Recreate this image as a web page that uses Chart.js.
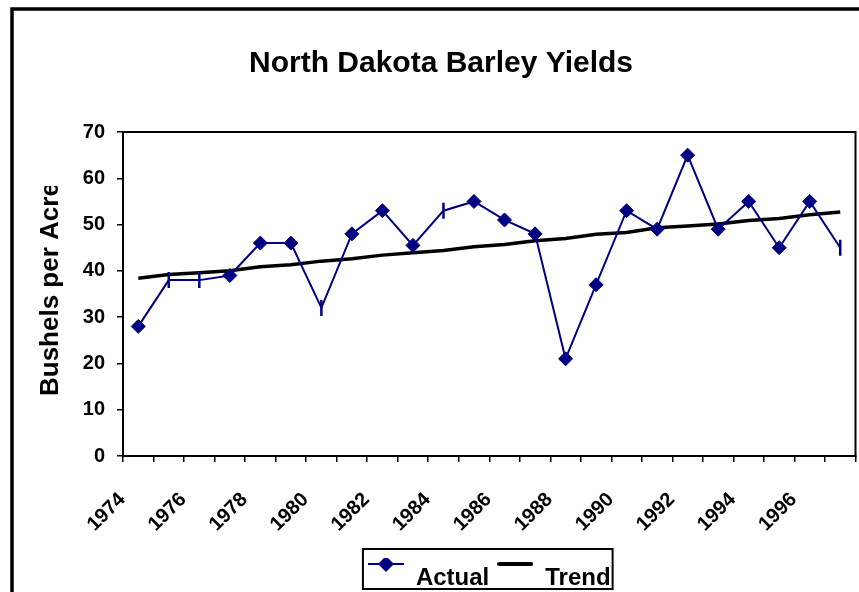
<!DOCTYPE html>
<html>
<head>
<meta charset="utf-8">
<script src="https://cdn.jsdelivr.net/npm/chart.js@4.4.1/dist/chart.umd.min.js"></script>
<style>
html,body{margin:0;padding:0;background:#fff;overflow:hidden;}
#wrap{width:859px;height:592px;position:relative;overflow:hidden;}
canvas{display:block;}
</style>
</head>
<body>
<div id="wrap"><canvas id="c" width="866" height="592"></canvas></div>
<script>
const years = ['1974','1975','1976','1977','1978','1979','1980','1981','1982','1983','1984','1985','1986','1987','1988','1989','1990','1991','1992','1993','1994','1995','1996','1997'];
const actual = [28, 38, 38, 39, 46, 46, 32, 48, 53, 45.5, 53, 55, 51, 48, 21, 37, 53, 49, 65, 49, 55, 45, 55, 45];
const trend = [38.4, 39.2, 39.6, 40.0, 40.9, 41.3, 42.1, 42.6, 43.4, 43.9, 44.4, 45.2, 45.7, 46.5, 47.0, 47.9, 48.3, 49.3, 49.7, 50.1, 50.9, 51.3, 52.1, 52.7];
// markers that appear as short vertical ticks in the original
const tickMarkYears = ['1975','1976','1980','1984','1997'];
const yTicks = [0, 10, 20, 30, 40, 50, 60, 70];

const NAVY = '#000080';
const FONT = 'Arial, "Liberation Sans", sans-serif';

const pStyles = years.map(y => tickMarkYears.includes(y) ? 'line' : 'rectRot');
const pRot = years.map(y => tickMarkYears.includes(y) ? 90 : 0);
const pRad = years.map(y => tickMarkYears.includes(y) ? 8 : 7);
const pBW = years.map(y => tickMarkYears.includes(y) ? 2.5 : 1);

function legendImg(kind) {
  const c = document.createElement('canvas');
  c.width = 36; c.height = 44;
  const g = c.getContext('2d');
  if (kind === 'actual') {
    g.strokeStyle = NAVY; g.lineWidth = 2;
    g.beginPath(); g.moveTo(0, 8); g.lineTo(36, 8); g.stroke();
    g.fillStyle = NAVY;
    g.beginPath(); g.moveTo(18, 0); g.lineTo(26, 8); g.lineTo(18, 16); g.lineTo(10, 8); g.closePath(); g.fill();
  } else {
    g.strokeStyle = '#000'; g.lineWidth = 4; g.lineCap = 'round';
    g.beginPath(); g.moveTo(2, 8); g.lineTo(34, 8); g.stroke();
  }
  return c;
}
const legImgs = {actual: legendImg('actual'), trend: legendImg('trend')};

const framePlugin = {
  id: 'frame',
  beforeDraw(chart) {
    const ctx = chart.ctx;
    ctx.save();
    ctx.fillStyle = '#fff';
    ctx.fillRect(0, 0, chart.width, chart.height);
    ctx.strokeStyle = '#000';
    ctx.lineWidth = 3.5;
    ctx.strokeRect(12, 9, 900, 700);
    ctx.restore();
  },
  afterDraw(chart) {
    const ctx = chart.ctx;
    const a = chart.chartArea;
    ctx.save();
    ctx.strokeStyle = '#000';
    ctx.lineWidth = 2;
    ctx.strokeRect(a.left, a.top, a.right - a.left, a.bottom - a.top);
    // y axis title (clipped as in original)
    ctx.beginPath();
    ctx.rect(0, 186, 120, 300);
    ctx.clip();
    ctx.translate(58, 396);
    ctx.rotate(-Math.PI / 2);
    ctx.font = 'bold 26px ' + FONT;
    ctx.fillStyle = '#000';
    ctx.textAlign = 'left';
    ctx.textBaseline = 'alphabetic';
    ctx.fillText('Bushels per Acre', 0, 0);
    ctx.restore();
    // legend border
    const lg = chart.legend;
    if (lg && lg.legendHitBoxes && lg.legendHitBoxes.length) {
      const hb = lg.legendHitBoxes;
      const l = hb[0].left - 5;
      const r = hb[hb.length - 1].left + hb[hb.length - 1].width + 2;
      const t = hb[0].top - 17;
      const b = hb[0].top + 23;
      ctx.save();
      ctx.strokeStyle = '#000';
      ctx.lineWidth = 2;
      ctx.strokeRect(l, t, r - l, b - t);
      ctx.restore();
    }
  }
};

new Chart(document.getElementById('c'), {
  type: 'line',
  data: {
    labels: years,
    datasets: [
      {
        label: 'Actual',
        data: actual,
        borderColor: NAVY,
        backgroundColor: NAVY,
        borderWidth: 2,
        pointStyle: pStyles,
        pointRotation: pRot,
        pointRadius: pRad,
        pointBorderWidth: pBW,
        pointBackgroundColor: NAVY,
        pointBorderColor: NAVY,
        tension: 0,
        order: 1
      },
      {
        label: 'Trend',
        data: trend,
        borderColor: '#000',
        backgroundColor: '#000',
        borderWidth: 3.5,
        pointRadius: 0,
        tension: 0,
        order: 2
      }
    ]
  },
  options: {
    responsive: false,
    animation: false,
    devicePixelRatio: 1,
    layout: { padding: { left: 20, right: 4, top: 0, bottom: -8 } },
    plugins: {
      title: {
        display: true,
        text: 'North Dakota Barley Yields',
        color: '#000',
        font: { family: FONT, size: 30, weight: 'bold', lineHeight: 1.2 },
        padding: { top: 46, bottom: 50 }
      },
      legend: {
        display: true,
        position: 'bottom',
        fullSize: false,
        labels: {
          color: '#000',
          font: { family: FONT, size: 24, weight: 'bold' },
          usePointStyle: true,
          pointStyleWidth: 36,
          padding: 8,
          generateLabels(chart) {
            return [
              { text: 'Actual', pointStyle: legImgs.actual, fillStyle: NAVY, strokeStyle: NAVY, lineWidth: 0, datasetIndex: 0, hidden: false },
              { text: 'Trend', pointStyle: legImgs.trend, fillStyle: '#000', strokeStyle: '#000', lineWidth: 0, datasetIndex: 1, hidden: false }
            ];
          }
        }
      },
      tooltip: { enabled: false }
    },
    scales: {
      x: {
        type: 'category',
        offset: true,
        border: { display: true, color: '#000', width: 2 },
        grid: { offset: true, drawOnChartArea: false, drawTicks: true, tickLength: 6, color: '#000', lineWidth: 1.5 },
        ticks: {
          autoSkip: false,
          maxRotation: 45,
          minRotation: 45,
          padding: 26,
          labelOffset: -16,
          color: '#000',
          font: { family: FONT, size: 20, weight: 'bold' },
          callback(v, i) { return i % 2 === 0 ? years[i] : ''; }
        },
        afterFit(s) { s.height = 102; s.paddingLeft = 0; s.paddingRight = 0; }
      },
      y: {
        min: 0,
        max: 70,
        border: { display: true, color: '#000', width: 2 },
        grid: { drawOnChartArea: false, drawTicks: true, tickLength: 6, color: '#000', lineWidth: 1.5 },
        afterBuildTicks(s) { s.ticks = yTicks.map(v => ({ value: v })); },
        ticks: {
          padding: 12,
          color: '#000',
          font: { family: FONT, size: 20, weight: 'bold' }
        },
        afterFit(s) { s.width = 103; }
      }
    }
  },
  plugins: [framePlugin]
});
</script>
</body>
</html>
